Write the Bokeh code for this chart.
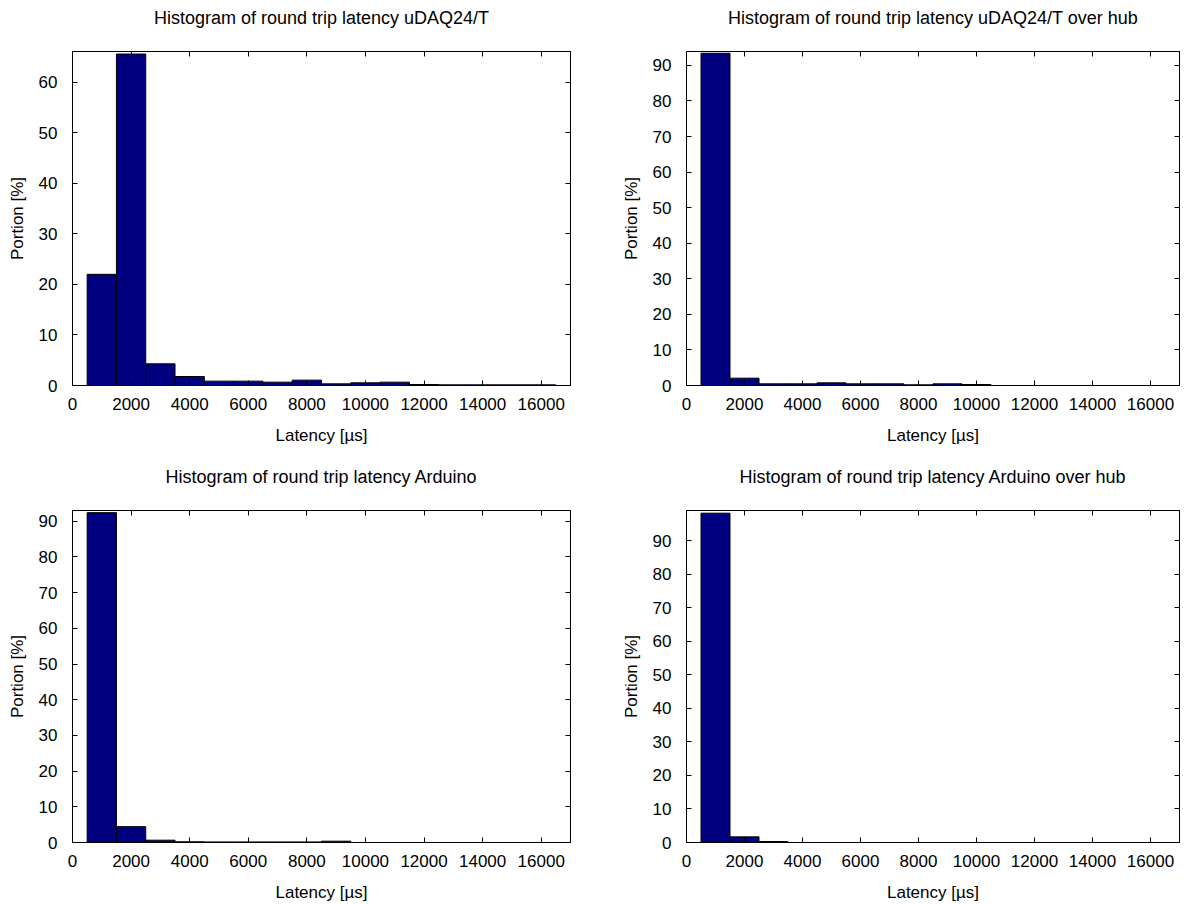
from bokeh.plotting import figure
from bokeh.layouts import column, row
from bokeh.models import LinearAxis, SingleIntervalTicker, Range1d
from bokeh.embed import file_html
from bokeh.resources import INLINE

# ---------------- data ----------------
bin_centers = [1000, 2000, 3000, 4000, 5000, 6000, 7000, 8000,
               9000, 10000, 11000, 12000, 13000, 14000, 15000, 16000]
bin_width = 1000

udaq = [22.0, 65.6, 4.29, 1.78, 0.86, 0.86, 0.66, 1.06,
        0.33, 0.53, 0.66, 0.2, 0.13, 0.13, 0.13, 0.13]
udaq_hub = [93.4, 2.06, 0.47, 0.47, 0.75, 0.47, 0.47, 0.19,
            0.47, 0.28, 0, 0, 0, 0, 0, 0]
arduino = [92.4, 4.44, 0.65, 0.2, 0.15, 0.15, 0.15, 0.15,
           0.37, 0, 0, 0, 0, 0, 0, 0]
arduino_hub = [98.2, 1.68, 0.3, 0, 0, 0, 0, 0,
               0, 0, 0, 0, 0, 0, 0, 0]

titles = ["Histogram of round trip latency uDAQ24/T",
          "Histogram of round trip latency uDAQ24/T over hub",
          "Histogram of round trip latency Arduino",
          "Histogram of round trip latency Arduino over hub"]
x_label = "Latency [\u00b5s]"
y_label = "Portion [%]"
x_limits = (0, 17000)
y_limits = [66.1, 93.9, 93.0, 99.0]
x_tick_step = 2000
y_tick_step = 10

FONT = "Liberation Sans"
FS = "17px"
TITLE_FS = "18px"
BAR_COLOR = "#000080"


def style_axis(ax, labels=True):
    ax.axis_line_color = "black"
    ax.axis_line_width = 1
    ax.major_tick_line_color = "black"
    ax.major_tick_in = 5
    ax.major_tick_out = 0
    ax.minor_tick_line_color = None
    ax.major_label_text_font = FONT
    ax.major_label_text_color = "black"
    ax.axis_label_text_font = FONT
    ax.axis_label_text_font_size = FS
    ax.axis_label_text_font_style = "normal"
    ax.axis_label_text_color = "black"
    if labels:
        ax.major_label_text_font_size = FS
    else:
        ax.major_label_text_font_size = "0px"
        ax.major_label_text_color = None
        ax.major_label_standoff = 0


def make_panel(title, values, ymax, width, height, mb):
    p = figure(width=width, height=height, output_backend="svg",
               toolbar_location=None,
               x_range=Range1d(*x_limits), y_range=Range1d(0, ymax),
               min_border_left=mb[0], min_border_right=mb[1],
               min_border_top=mb[2], min_border_bottom=mb[3])
    p.vbar(x=bin_centers, width=bin_width, top=values, bottom=0,
           fill_color=BAR_COLOR, line_color="black", line_width=1)

    p.xgrid.visible = False
    p.ygrid.visible = False
    p.outline_line_color = "black"
    p.outline_line_width = 1
    p.background_fill_color = "white"
    p.border_fill_color = "white"

    xt = SingleIntervalTicker(interval=x_tick_step)
    yt = SingleIntervalTicker(interval=y_tick_step)

    xa = p.xaxis[0]
    xa.ticker = xt
    xa.axis_label = x_label
    style_axis(xa)
    xa.major_label_standoff = 8
    xa.axis_label_standoff = 13

    ya = p.yaxis[0]
    ya.ticker = yt
    ya.axis_label = y_label
    style_axis(ya)
    ya.major_label_standoff = 11
    ya.axis_label_standoff = 9

    # mirrored top axis carries the panel title as its label
    top_ax = LinearAxis(ticker=xt)
    style_axis(top_ax, labels=False)
    top_ax.axis_label = title
    top_ax.axis_label_text_font_size = TITLE_FS
    top_ax.axis_label_standoff = 20
    p.add_layout(top_ax, "above")

    right_ax = LinearAxis(ticker=yt)
    style_axis(right_ax, labels=False)
    p.add_layout(right_ax, "right")
    return p


p1 = make_panel(titles[0], udaq, y_limits[0], 600, 452, (72, 30, 51, 67))
p2 = make_panel(titles[1], udaq_hub, y_limits[1], 583, 452, (86, 2, 51, 67))
p3 = make_panel(titles[2], arduino, y_limits[2], 600, 452, (72, 30, 58, 60))
p4 = make_panel(titles[3], arduino_hub, y_limits[3], 583, 452, (86, 2, 58, 60))

layout = column(row(p1, p2), row(p3, p4))
open("out.html", "w").write(file_html(layout, INLINE))
